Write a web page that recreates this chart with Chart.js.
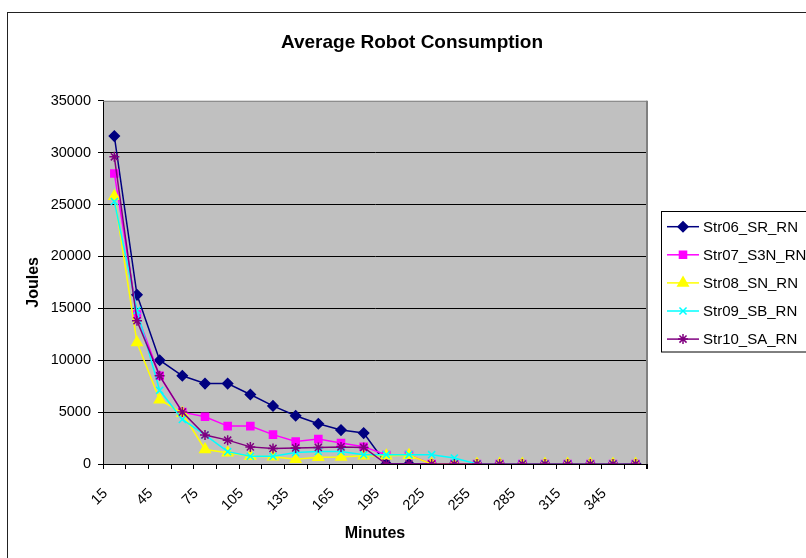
<!DOCTYPE html>
<html>
<head>
<meta charset="utf-8">
<script src="https://cdn.jsdelivr.net/npm/chart.js@4.4.1/dist/chart.umd.min.js"></script>
<style>
  html, body { margin: 0; padding: 0; background: #fff; }
  canvas { display: block; }
</style>
</head>
<body>
<canvas id="myChart" width="806" height="558"></canvas>
<script>
// data
const minutes = ['15','30','45','60','75','90','105','120','135','150','165','180',
                 '195','210','225','240','255','270','285','300','315','330','345','360'];

const str06 = [31600,16300,10000,8500,7750,7750,6700,5600,4650,3880,3270,2980,
               0,0,0,0,0,0,0,0,0,0,0,0];
const str07 = [28000,14400,8500,5000,4550,3650,3650,2830,2170,2400,2020,1670,
               870,870,0,0,0,0,0,0,0,0,0,0];
const str08 = [25800,11700,6200,4900,1400,1090,750,700,450,640,670,800,
               800,850,0,0,0,0,0,0,0,0,0,0];
const str09 = [25300,14800,7100,4300,2800,1190,750,750,1100,1200,1200,900,
               900,900,900,580,0,0,0,0,0,0,0,0];
const str10 = [29600,13800,8500,5000,2800,2300,1650,1500,1550,1600,1650,1600,
               0,0,0,0,0,0,0,0,0,0,0,0];

const seriesNames = ['Str06_SR_RN','Str07_S3N_RN','Str08_SN_RN','Str09_SB_RN','Str10_SA_RN'];
const seriesColors = ['#000080','#ff00ff','#ffff00','#00ffff','#800080'];
const seriesMarks = ['rectRot','rect','triangle','crossRot','star'];
const markSize = [5, 5, 6, 5, 5];
const seriesValues = [str06, str07, str08, str09, str10];

const yMin = 0, yMax = 35000, yStep = 5000;

Chart.defaults.font.family = '"Liberation Sans", Arial, sans-serif';
Chart.defaults.color = '#000';

// white page, grey plot area, outer frame
const plotBack = {
  id: 'plotBack',
  beforeDraw(chart) {
    const {ctx, chartArea: a} = chart;
    ctx.save();
    ctx.fillStyle = '#fff';
    ctx.fillRect(0, 0, chart.width, chart.height);
    ctx.fillStyle = '#c0c0c0';
    ctx.fillRect(a.left, a.top, a.right - a.left, a.bottom - a.top);
    ctx.strokeStyle = '#222';
    ctx.lineWidth = 1;
    ctx.strokeRect(7.5, 12.5, chart.width + 10, chart.height + 10);
    ctx.restore();
  },
  beforeDatasetsDraw(chart) {
    const {ctx, chartArea: a} = chart;
    const x = chart.scales.x;
    ctx.save();
    ctx.strokeStyle = '#808080';
    ctx.lineWidth = 1;
    ctx.beginPath();
    ctx.moveTo(a.left, a.top + 0.5);
    ctx.lineTo(a.right, a.top + 0.5);
    ctx.stroke();
    ctx.lineWidth = 2;
    ctx.beginPath();
    ctx.moveTo(a.right, a.top);
    ctx.lineTo(a.right, a.bottom);
    ctx.stroke();
    // last tick mark at the right end of the category axis
    ctx.strokeStyle = '#000';
    ctx.lineWidth = 1;
    ctx.beginPath();
    ctx.moveTo(x.right - 0.5, a.bottom);
    ctx.lineTo(x.right - 0.5, a.bottom + 5);
    ctx.stroke();
    ctx.restore();
  }
};

// legend box like the spreadsheet one: line + marker + name
const boxLegend = {
  id: 'boxLegend',
  afterDraw(chart) {
    const ctx = chart.ctx;
    const bx = 661.5, by = 211.5, bh = 140.5;
    ctx.save();
    ctx.fillStyle = '#fff';
    ctx.fillRect(bx, by, 200, bh);
    ctx.strokeStyle = '#000';
    ctx.lineWidth = 1;
    ctx.strokeRect(bx, by, 200, bh);
    ctx.font = '15px "Liberation Sans", Arial, sans-serif';
    ctx.textBaseline = 'middle';
    chart.data.datasets.forEach(function (ds, i) {
      const y = 226.7 + i * 28.1;
      ctx.strokeStyle = ds.borderColor;
      ctx.lineWidth = 1.5;
      ctx.beginPath();
      ctx.moveTo(667, y);
      ctx.lineTo(699, y);
      ctx.stroke();
      if (Chart.helpers && Chart.helpers.drawPoint) {
        ctx.fillStyle = ds.pointBackgroundColor;
        ctx.strokeStyle = ds.pointBorderColor;
        ctx.lineWidth = 1.5;
        Chart.helpers.drawPoint(ctx, {pointStyle: ds.pointStyle, radius: ds.pointRadius, borderWidth: 1.5, rotation: 0}, 683, y);
      }
      ctx.fillStyle = '#000';
      ctx.fillText(ds.label, 703, y + 1);
    });
    ctx.restore();
  }
};

const datasets = seriesNames.map(function (name, i) {
  return {
    label: name,
    data: seriesValues[i],
    borderColor: seriesColors[i],
    backgroundColor: seriesColors[i],
    pointBackgroundColor: seriesColors[i],
    pointBorderColor: seriesColors[i],
    pointStyle: seriesMarks[i],
    pointRadius: markSize[i],
    pointBorderWidth: 1.5,
    borderWidth: 1.5,
    tension: 0,
    order: seriesNames.length - i
  };
});

new Chart(document.getElementById('myChart'), {
  type: 'line',
  data: { labels: minutes, datasets: datasets },
  options: {
    responsive: false,
    devicePixelRatio: 1,
    animation: false,
    layout: { padding: { left: 7, right: -11, top: 0, bottom: 0 } },
    plugins: {
      legend: { display: false },
      tooltip: { enabled: false },
      title: {
        display: true,
        text: 'Average Robot Consumption',
        color: '#000',
        font: { size: 19, weight: 'bold' },
        padding: { top: 31, bottom: 47 }
      }
    },
    scales: {
      x: {
        offset: true,
        grid: { drawOnChartArea: false, offset: true, tickLength: 5, tickColor: '#000' },
        border: { color: '#000', width: 1 },
        ticks: {
          autoSkip: false,
          maxRotation: 45,
          minRotation: 45,
          padding: 16,
          labelOffset: -9,
          color: '#000',
          font: { size: 14.5 },
          callback: function (v, i) { return i % 2 === 0 ? minutes[i] : ''; }
        },
        title: {
          display: true,
          text: 'Minutes',
          color: '#000',
          font: { size: 16, weight: 'bold' },
          padding: { top: 0, bottom: 15 }
        },
        afterFit: function (s) { s.height = 94; }
      },
      y: {
        min: yMin,
        max: yMax,
        grid: {
          color: function (c) { return c.tick && c.tick.value === yMax ? 'rgba(0,0,0,0)' : '#000'; },
          tickColor: '#000',
          tickLength: 5
        },
        border: { color: '#000', width: 1 },
        ticks: {
          stepSize: yStep,
          padding: 7,
          color: '#000',
          font: { size: 14.5 },
          callback: function (v) { return String(v); }
        },
        title: {
          display: true,
          text: 'Joules',
          color: '#000',
          font: { size: 16, weight: 'bold' },
          padding: { top: 17, bottom: 0 }
        },
        afterFit: function (s) { s.width = 96; }
      },
      // empty right-hand axis that keeps room for the legend box
      side: {
        position: 'right',
        min: yMin,
        max: yMax,
        grid: { display: false },
        border: { display: false },
        ticks: { display: false },
        afterFit: function (s) { s.width = 170; }
      }
    }
  },
  plugins: [plotBack, boxLegend]
});
</script>
</body>
</html>
